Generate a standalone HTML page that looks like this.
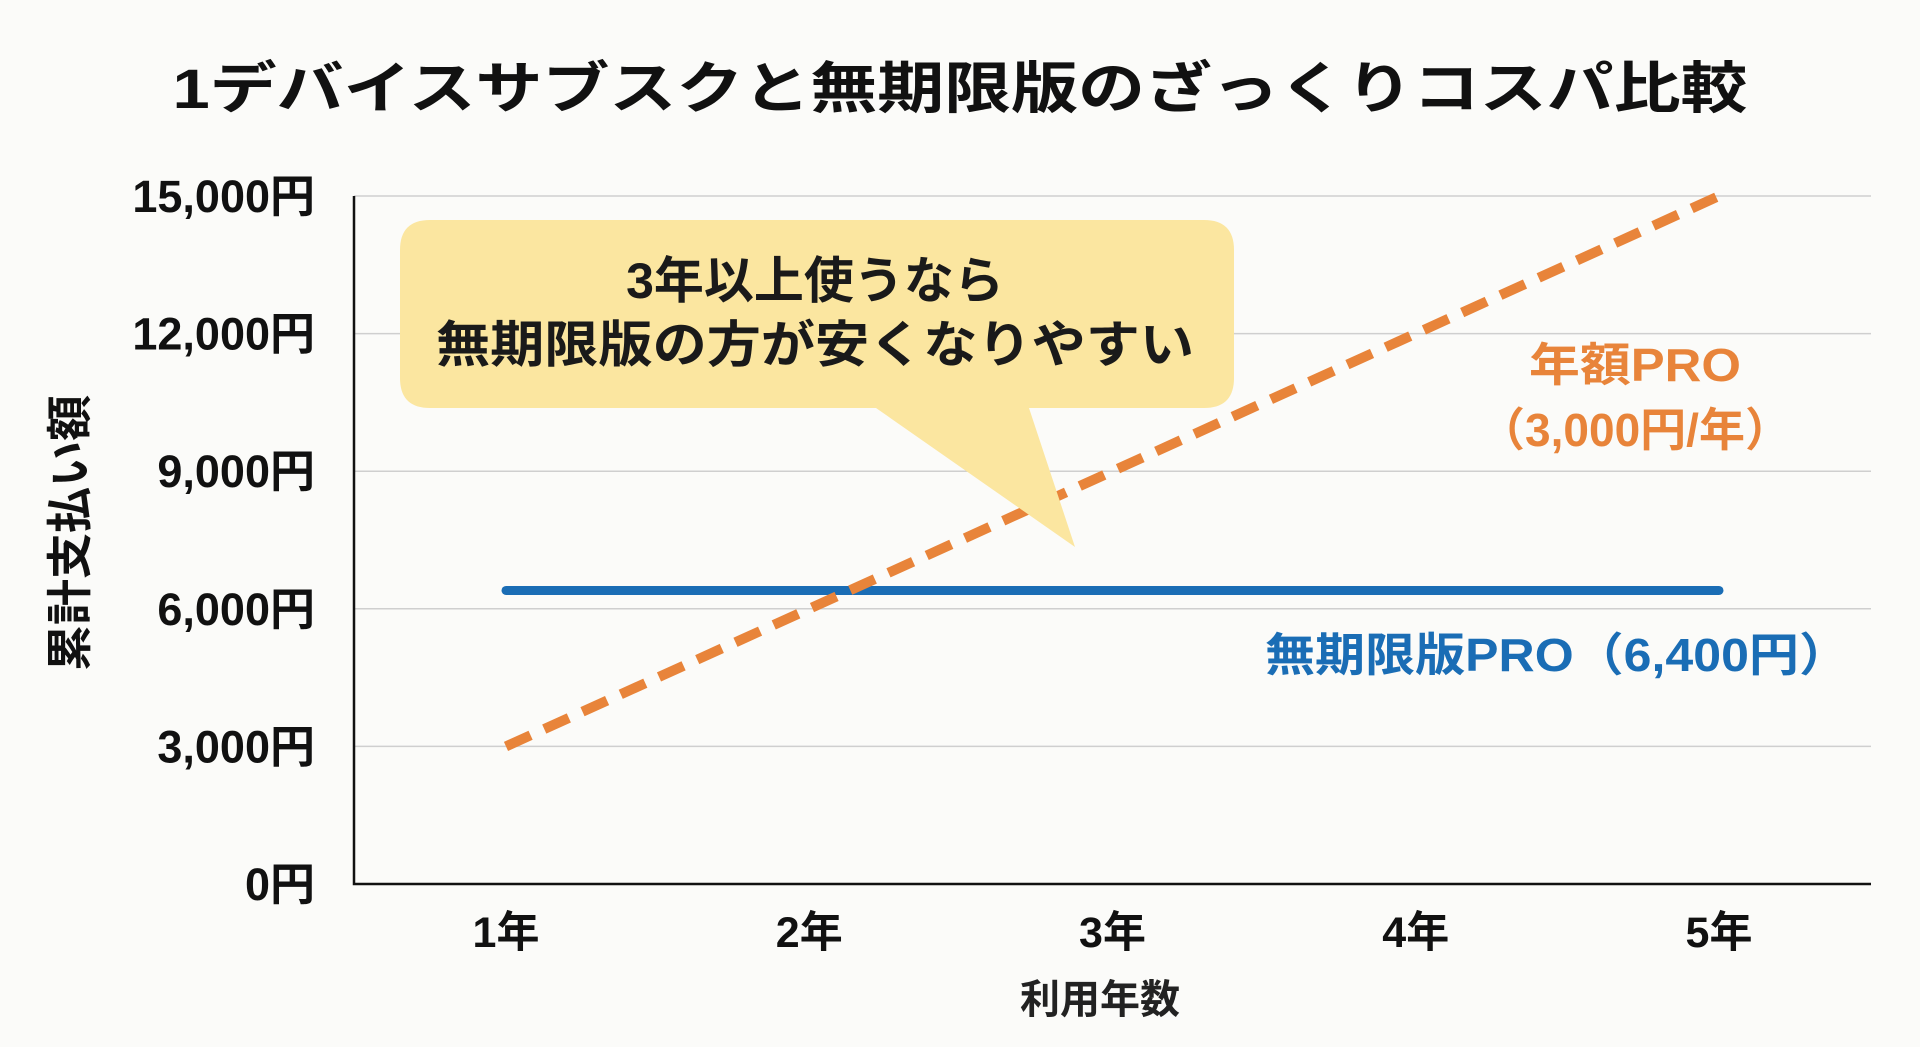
<!DOCTYPE html>
<html><head><meta charset="utf-8">
<style>
html,body{margin:0;padding:0;background:#fbfbf9;}
svg{display:block;font-family:"Liberation Sans","Noto Sans CJK JP",sans-serif;font-weight:bold;}
</style></head>
<body>
<svg id="chart" width="1920" height="1047" viewBox="0 0 1920 1047" xmlns="http://www.w3.org/2000/svg">
<rect width="1920" height="1047" fill="#fbfbf9"/>
<text x="960" y="108" text-anchor="middle" font-size="56" fill="#111" textLength="1575" lengthAdjust="spacingAndGlyphs">1デバイスサブスクと無期限版のざっくりコスパ比較</text>
<g id="grid"></g>
<g id="yticks"></g>
<g id="xticks"></g>
<text transform="translate(86,533) rotate(-90)" text-anchor="middle" font-size="46" fill="#111">累計支払い額</text>
<text x="1100" y="1013" text-anchor="middle" font-size="40" fill="#222">利用年数</text>
<g id="series"></g>
<g>
<path d="M430,220 H1204 Q1234,220 1234,250 V378 Q1234,408 1204,408 H1029 L1075,547 L876,408 H430 Q400,408 400,378 V250 Q400,220 430,220 Z" fill="#fbe6a0"/>
<text x="815" y="298" text-anchor="middle" font-size="50" fill="#1a1a1a">3年以上使うなら</text>
<text x="815" y="362" text-anchor="middle" font-size="50" fill="#1a1a1a" textLength="758" lengthAdjust="spacingAndGlyphs">無期限版の方が安くなりやすい</text>
</g>
<text x="1635" y="381" text-anchor="middle" font-size="46" fill="#e8843a" textLength="212" lengthAdjust="spacingAndGlyphs">年額PRO</text>
<text x="1635" y="446" text-anchor="middle" font-size="46" fill="#e8843a" textLength="312" lengthAdjust="spacingAndGlyphs">（3,000円/年）</text>
<text x="1557" y="671" text-anchor="middle" font-size="46" fill="#1a6db5" textLength="584" lengthAdjust="spacingAndGlyphs">無期限版PRO（6,400円）</text>
</svg>
<script>
const categories = ['1年','2年','3年','4年','5年'];
const annualValues = [3000, 6000, 9000, 12000, 15000];
const perpetualValues = [6400, 6400, 6400, 6400, 6400];
const yTicks = [0, 3000, 6000, 9000, 12000, 15000];
const yTickLabels = ['0円','3,000円','6,000円','9,000円','12,000円','15,000円'];

const NS = 'http://www.w3.org/2000/svg';
const L = 354, R = 1871, T = 196, B = 884;
const X1 = 506, X5 = 1719;
const yMax = 15000;
function yScale(v){ return B - (v / yMax) * (B - T); }
function xScale(i){ return X1 + i * (X5 - X1) / (categories.length - 1); }
function mk(tag, attrs){ const e = document.createElementNS(NS, tag); for (const k in attrs) e.setAttribute(k, attrs[k]); return e; }

const grid = document.getElementById('grid');
const yt = document.getElementById('yticks');
yTicks.forEach((v, i) => {
  if (v !== 0) {
    const ln = mk('line', {x1: L, x2: R, y1: yScale(v), y2: yScale(v), stroke: '#cfcfcf', 'stroke-width': 1.5});
    
    
    grid.appendChild(ln);
  }
  const t = mk('text', {x: 315, y: yScale(v) + 16, 'text-anchor': 'end', 'font-size': 45, fill: '#111'});
  t.textContent = yTickLabels[i];
  
  
  yt.appendChild(t);
});
const ax = mk('path', {d: `M${L},${T} V${B} H${R}`, fill: 'none', stroke: '#111', 'stroke-width': 2.5});


grid.appendChild(ax);

const xt = document.getElementById('xticks');
categories.forEach((c, i) => {
  const t = mk('text', {x: xScale(i), y: 947, 'text-anchor': 'middle', 'font-size': 43, fill: '#111'});
  t.textContent = c;
  
  
  xt.appendChild(t);
});

const s = document.getElementById('series');
const bluePts = perpetualValues.map((v, i) => `${xScale(i)},${yScale(v)}`).join(' ');
const blue = mk('polyline', {points: bluePts, fill: 'none', stroke: '#1a6db5', 'stroke-width': 9, 'stroke-linecap': 'round'});


s.appendChild(blue);
const orPts = annualValues.map((v, i) => `${xScale(i)},${yScale(v)}`).join(' ');
const orange = mk('polyline', {points: orPts, fill: 'none', stroke: '#e8843a', 'stroke-width': 10, 'stroke-dasharray': '27 15'});


s.appendChild(orange);
</script>
</body></html>
